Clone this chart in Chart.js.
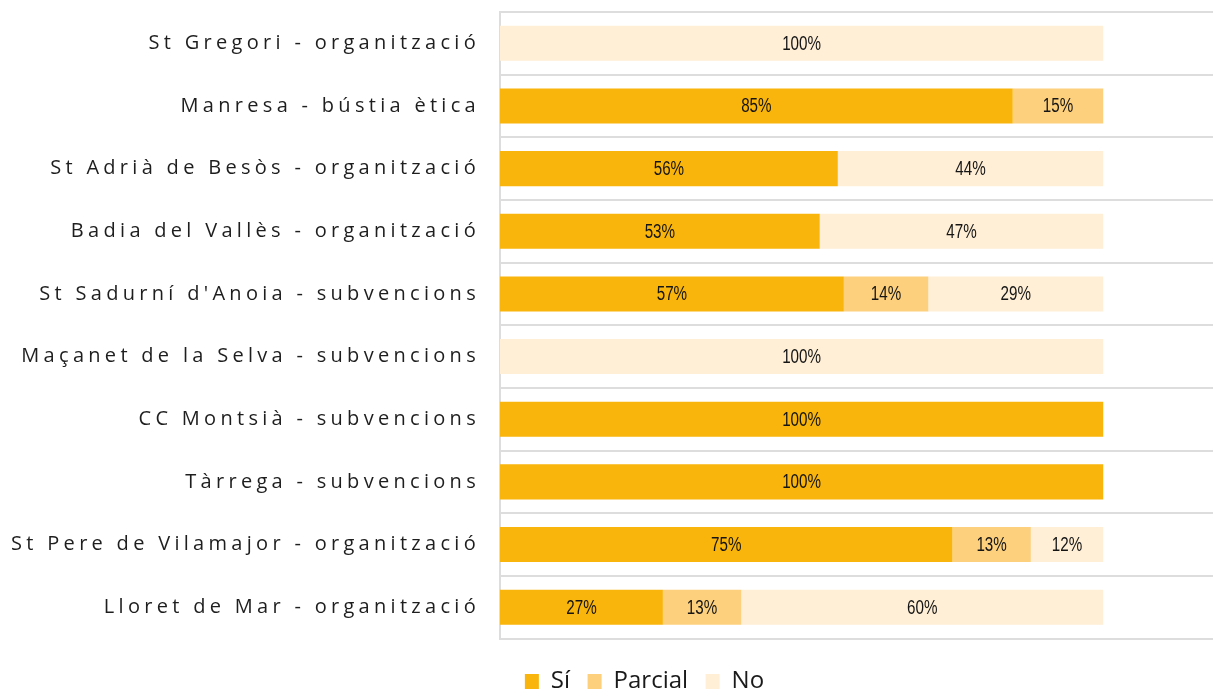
<!DOCTYPE html>
<html lang="ca">
<head>
    <meta charset="UTF-8">
    <title>Resultats per entitat</title>
    <script src="https://cdn.jsdelivr.net/npm/chart.js"></script>
    <style>
        body {
            margin: 0;
            background: #fff;
        }
        .chart-container {
            position: relative;
            width: 1213px;
            height: 690px;
        }
    </style>
</head>
<body>
    <div class="chart-container">
        <canvas id="chart"></canvas>
    </div>

    <script>
        // Dades
        const categories = [
            'St Gregori - organització',
            'Manresa - bústia ètica',
            'St Adrià de Besòs - organització',
            'Badia del Vallès - organització',
            "St Sadurní d'Anoia - subvencions",
            'Maçanet de la Selva - subvencions',
            'CC Montsià - subvencions',
            'Tàrrega - subvencions',
            'St Pere de Vilamajor - organització',
            'Lloret de Mar - organització'
        ];
        const si      = [0, 85, 56, 53, 57, 0, 100, 100, 75, 27];
        const parcial = [0, 15, 0, 0, 14, 0, 0, 0, 13, 13];
        const no      = [100, 0, 44, 47, 29, 100, 0, 0, 12, 60];

        const seriesNames = ['Sí', 'Parcial', 'No'];
        const colors = ['#F9B50C', '#FDD07D', '#FFEFD6'];

        // etiquetes dins de cada segment (text estret)
        const segmentLabels = {
            id: 'segmentLabels',
            afterDatasetsDraw(chart) {
                const ctx = chart.ctx;
                chart.data.datasets.forEach((ds, i) => {
                    const meta = chart.getDatasetMeta(i);
                    meta.data.forEach((bar, j) => {
                        const v = ds.data[j];
                        if (!v) return;
                        ctx.save();
                        ctx.font = '20px "Liberation Sans", Arial, sans-serif';
                        ctx.fillStyle = '#151515';
                        ctx.textAlign = 'center';
                        ctx.textBaseline = 'middle';
                        ctx.translate((bar.x + bar.base) / 2, bar.y + 1);
                        ctx.scale(0.76, 1);
                        ctx.fillText(v + '%', 0, 0);
                        ctx.restore();
                    });
                });
            }
        };

        // espaiat de lletres a l'eix Y i posició de la llegenda
        const tweaks = {
            id: 'tweaks',
            beforeDraw(chart) {
                const ys = chart.scales.y;
                if (!ys._patched) {
                    const orig = ys.drawLabels;
                    ys.drawLabels = function (area) {
                        const ctx = this.ctx;
                        ctx.save();
                        ctx.letterSpacing = '4.3px';
                        orig.call(this, area);
                        ctx.restore();
                    };
                    ys._patched = true;
                }
                const lg = chart.legend;
                lg.left += 38;
                lg.right += 38;
                lg.top += 13.5;
                lg.bottom += 13.5;
            }
        };

        new Chart(document.getElementById('chart'), {
            type: 'bar',
            data: {
                labels: categories,
                datasets: [si, parcial, no].map((d, i) => ({
                    label: seriesNames[i],
                    data: d,
                    backgroundColor: colors[i],
                    borderWidth: 0,
                    categoryPercentage: 0.8,
                    barPercentage: 0.7
                }))
            },
            options: {
                indexAxis: 'y',
                responsive: true,
                maintainAspectRatio: false,
                animation: false,
                layout: {
                    padding: { top: 12, right: 0, left: 0, bottom: 0 }
                },
                scales: {
                    x: {
                        stacked: true,
                        display: false,
                        min: 0,
                        max: 118.2
                    },
                    y: {
                        stacked: true,
                        afterFit: s => {
                            s.width = 500;
                            s.paddingTop = 0;
                            s.paddingBottom = 0;
                        },
                        grid: {
                            color: '#dddddd',
                            lineWidth: 2,
                            drawTicks: false
                        },
                        border: {
                            color: '#dddddd',
                            width: 2
                        },
                        ticks: {
                            autoSkip: false,
                            padding: 20,
                            color: '#1e1e1e',
                            font: { family: '"Open Sans", sans-serif', size: 20 }
                        }
                    }
                },
                plugins: {
                    legend: {
                        position: 'bottom',
                        labels: {
                            boxWidth: 14,
                            boxHeight: 15,
                            padding: 17.5,
                            color: '#1a1a1a',
                            font: { family: '"Open Sans", sans-serif', size: 24 }
                        }
                    },
                    tooltip: { enabled: false }
                }
            },
            plugins: [segmentLabels, tweaks]
        });
    </script>
</body>
</html>
